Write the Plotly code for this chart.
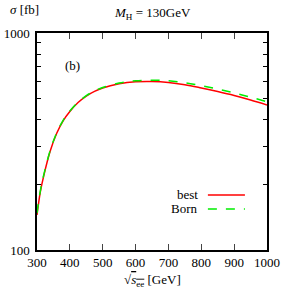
import plotly.graph_objects as go

sqrt_s = [300, 310, 320, 340, 360, 380, 400, 425, 450, 475, 500, 550, 600,
          650, 700, 750, 800, 850, 900, 950, 1000]
best = [145, 185, 218, 285, 345, 395, 435, 478, 512, 538, 558, 583, 596,
        598, 592, 578, 558, 537, 515, 491, 466]
born = [148, 187, 220, 287, 347, 397, 437, 480, 514, 541, 561, 588, 602,
        606, 602, 590, 572, 552, 530, 506, 482]

x_ticks = [300, 400, 500, 600, 700, 800, 900, 1000]
y_ticks = [100, 1000]
y_minor_ticks = [200, 300, 400, 500, 600, 700, 800, 900]

FONT = "Liberation Serif"
FS = 13

fig = go.Figure()
fig.add_trace(go.Scatter(x=sqrt_s, y=best, mode="lines", name="best",
                         line=dict(color="#ff0000", width=1.5), line_shape="spline",
                         showlegend=False))
fig.add_trace(go.Scatter(x=sqrt_s, y=born, mode="lines", name="Born",
                         line=dict(color="#00ee00", width=1.5, dash="dash"),
                         line_shape="spline", showlegend=False))

fig.update_layout(
    width=282, height=295,
    margin=dict(l=37, r=15, t=33, b=45),
    paper_bgcolor="white", plot_bgcolor="white",
    font=dict(family=FONT, size=FS, color="black"),
)
fig.update_xaxes(range=[300, 1000], tickvals=x_ticks, ticks="inside", ticklen=6,
                 tickwidth=1, mirror="ticks", showline=True, linecolor="black",
                 linewidth=1.5, showgrid=False, zeroline=False, automargin=False,
                 tickfont=dict(family=FONT, size=FS))
fig.update_yaxes(type="log", range=[2, 3], tickvals=y_ticks,
                 ticks="inside", ticklen=4, tickwidth=1, mirror="ticks",
                 minor=dict(tickvals=y_minor_ticks, ticks="inside", ticklen=4,
                            tickwidth=1, tickcolor="black", showgrid=False),
                 showline=True, linecolor="black", linewidth=1.5, showgrid=False,
                 zeroline=False, automargin=False, ticklabelstandoff=3,
                 tickfont=dict(family=FONT, size=FS))

ann = [
    dict(text="<i>σ</i> [fb]", x=-0.125, y=1.11, xanchor="left", yanchor="middle"),
    dict(text="<i>M</i><sub>H</sub> = 130GeV", x=0.50, y=1.09, xanchor="center", yanchor="middle"),
    dict(text="(b)", x=0.155, y=0.852, xanchor="center", yanchor="middle"),
    dict(text="√<span style='text-decoration:overline'><i>s</i><sub>ee</sub></span> [GeV]",
         x=0.50, y=-0.14, xanchor="center", yanchor="middle"),
    dict(text="best", x=0.709, y=0.2535, xanchor="right", yanchor="middle"),
    dict(text="Born", x=0.709, y=0.189, xanchor="right", yanchor="middle"),
]
for a in ann:
    fig.add_annotation(xref="paper", yref="paper", showarrow=False,
                       font=dict(family=FONT, size=FS, color="black"), **a)

fig.add_shape(type="line", xref="paper", yref="paper", x0=0.743, x1=0.904,
              y0=0.2535, y1=0.2535, line=dict(color="#ff0000", width=1.5))
fig.add_shape(type="line", xref="paper", yref="paper", x0=0.743, x1=0.904,
              y0=0.189, y1=0.189, line=dict(color="#00ee00", width=1.5, dash="dash"))

fig.write_html("out.html", config={"displayModeBar": False},
               post_script="document.body.style.margin='0';document.body.style.overflow='hidden';")
